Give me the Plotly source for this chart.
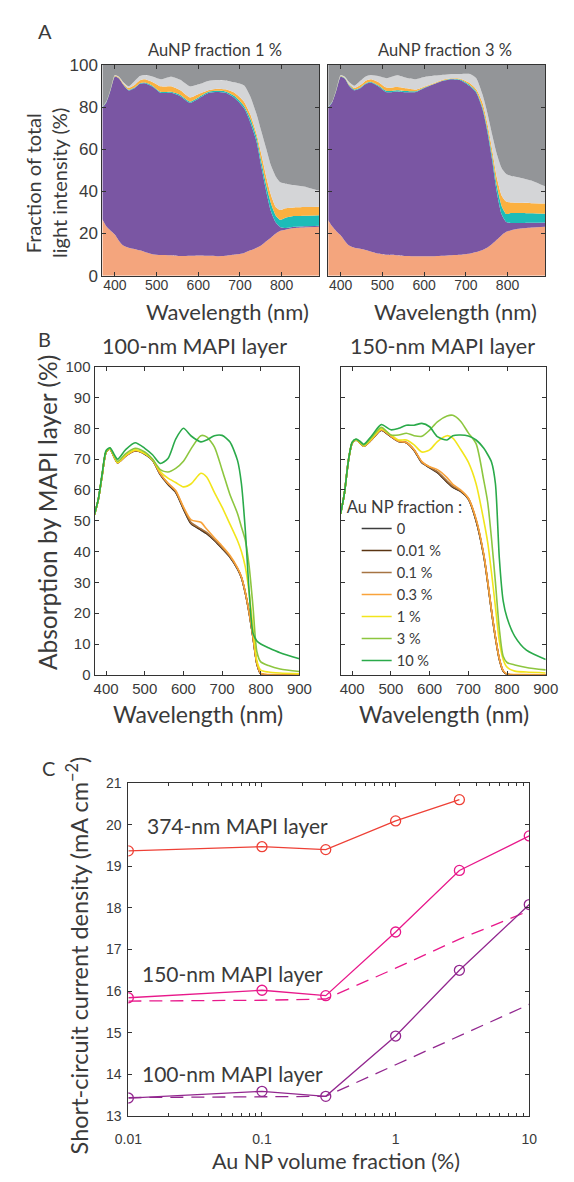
import plotly.graph_objects as go

# ---------------- Panel A data (cumulative boundaries, %) ----------------
WL_A = [370, 380, 390, 400, 410, 420, 433, 447, 460, 472, 490, 510, 535, 557, 580, 603,
        626, 645, 665, 687, 710, 725, 740, 752, 763, 774, 786, 797, 809, 830, 860, 890]

A1_salmon = [26.8, 23.3, 21.3, 19.5, 16.5, 14.3, 13.3, 12.7, 12.0, 11.2, 10.2, 9.8, 9.7, 9.3, 9.4, 9.6,
             9.4, 9.2, 9.4, 10.0, 10.8, 12.0, 13.2, 14.5, 16.3, 18.0, 20.0, 21.3, 21.8, 22.6, 23.0, 23.2]
A1_purple = [79.8, 82.5, 88.3, 94.5, 93.6, 90.7, 88.0, 89.0, 91.1, 91.4, 89.8, 86.8, 86.8, 85.2, 82.1, 84.4,
             86.8, 87.2, 86.8, 84.4, 79.5, 72.7, 63.4, 51.0, 40.0, 30.7, 25.2, 23.0, 22.6, 23.2, 23.5, 23.7]
A1_teal = [80.0, 82.7, 88.5, 94.7, 93.8, 90.9, 88.3, 89.3, 91.4, 91.7, 90.2, 87.3, 87.3, 85.8, 82.7, 85.0,
           87.4, 87.8, 87.5, 85.3, 80.5, 74.5, 65.5, 53.5, 43.0, 34.5, 28.5, 26.5, 27.5, 28.3, 28.5, 28.7]
A1_orange = [80.0, 82.8, 88.7, 95.0, 94.1, 91.4, 89.1, 90.5, 92.8, 93.3, 92.0, 89.9, 89.9, 88.0, 84.6, 86.5,
             88.2, 88.8, 88.5, 86.8, 82.5, 76.5, 67.3, 57.0, 47.0, 38.5, 32.5, 31.2, 32.0, 32.4, 32.6, 32.7]
A1_lgray = [80.0, 82.9, 88.8, 95.3, 94.5, 92.0, 89.9, 92.3, 94.8, 95.3, 94.6, 93.3, 94.5, 93.0, 89.9, 91.0,
            92.6, 92.9, 92.7, 91.8, 90.3, 85.0, 76.5, 68.0, 60.3, 52.5, 47.0, 44.3, 43.7, 43.0, 42.0, 40.3]

A3_salmon = [26.3, 23.3, 21.0, 19.2, 16.5, 14.3, 13.3, 12.8, 12.2, 11.5, 10.5, 9.9, 9.7, 9.3, 9.2, 9.2,
             9.2, 9.4, 9.7, 9.9, 10.5, 11.2, 12.2, 13.4, 15.0, 17.0, 19.2, 20.8, 21.6, 22.4, 22.9, 23.2]
A3_purple = [79.8, 82.5, 88.3, 94.5, 93.5, 90.2, 88.0, 89.0, 91.0, 91.7, 89.9, 87.1, 87.5, 87.1, 87.2, 89.3,
             91.1, 92.5, 93.3, 92.8, 89.9, 86.8, 79.0, 68.0, 55.0, 40.0, 29.0, 25.5, 25.0, 25.0, 25.1, 25.2]
A3_teal = [80.0, 82.6, 88.5, 94.7, 93.7, 90.5, 88.4, 89.4, 91.4, 92.1, 90.4, 87.7, 88.1, 87.7, 87.6, 89.6,
           91.3, 92.7, 93.5, 93.1, 90.4, 87.5, 80.0, 69.5, 57.0, 43.0, 33.0, 29.3, 29.7, 29.8, 29.6, 29.4]
A3_orange = [80.0, 82.7, 88.7, 94.9, 94.0, 91.0, 89.1, 90.5, 92.6, 93.3, 92.0, 89.3, 89.6, 89.0, 88.4, 90.0,
             91.6, 93.0, 93.7, 93.5, 91.4, 88.5, 82.1, 72.0, 60.0, 47.0, 38.0, 35.2, 34.7, 34.6, 34.4, 34.3]
A3_lgray = [80.0, 82.8, 88.8, 95.3, 94.5, 92.0, 90.2, 92.5, 94.6, 95.3, 94.8, 93.8, 95.2, 94.0, 93.3, 94.4,
            95.0, 95.4, 95.8, 95.8, 95.8, 93.8, 86.0, 77.0, 67.0, 58.0, 51.0, 48.3, 47.3, 46.5, 45.0, 42.4]
A_total = [100.0] * len(WL_A)

# ---------------- Panel B data (absorption by MAPI layer, %) ----------------
WL_B = [370, 380, 390, 400, 410, 420, 430, 450, 475, 500, 520, 540, 560, 580, 600, 620,
        645, 660, 680, 700, 720, 740, 750, 760, 770, 780, 790, 800, 820, 850, 900]
fractions = ["0", "0.01 %", "0.1 %", "0.3 %", "1 %", "3 %", "10 %"]
frac_colors = ["#3d3d3d", "#5a3412", "#a67443", "#f9a33b", "#f2e51c", "#8dc63f", "#2aaa4a"]

B100 = {
    "0":      [52.0, 57.0, 65.0, 72.3, 73.3, 70.9, 68.8, 71.0, 72.7, 71.6, 69.6, 65.0, 61.8, 59.2, 53.8, 49.0,
               47.0, 45.8, 43.6, 41.0, 38.2, 34.3, 31.5, 26.5, 20.0, 12.0, 3.5, 0.3, 0.0, 0.0, 0.0],
    "0.01 %": [52.0, 57.0, 65.0, 72.3, 73.3, 70.9, 68.8, 71.0, 72.7, 71.7, 69.7, 65.1, 61.9, 59.3, 53.9, 49.1,
               47.1, 45.9, 43.7, 41.1, 38.3, 34.4, 31.6, 26.6, 20.1, 12.1, 3.6, 0.3, 0.0, 0.0, 0.0],
    "0.1 %":  [52.0, 57.0, 65.0, 72.3, 73.3, 70.9, 68.8, 71.0, 72.8, 71.8, 69.8, 65.2, 62.1, 59.5, 54.2, 49.4,
               47.4, 46.2, 43.9, 41.3, 38.5, 34.5, 31.7, 26.7, 20.2, 12.2, 3.7, 0.4, 0.0, 0.0, 0.0],
    "0.3 %":  [52.0, 57.0, 65.0, 72.3, 73.3, 70.9, 68.8, 71.0, 72.8, 71.8, 69.8, 65.3, 62.2, 59.8, 54.5, 50.3,
               49.5, 47.3, 44.5, 41.8, 38.8, 34.7, 31.8, 26.8, 20.3, 12.3, 3.8, 0.5, 0.1, 0.1, 0.0],
    "1 %":    [52.0, 57.0, 65.0, 72.4, 73.4, 71.0, 68.9, 71.2, 73.0, 71.8, 69.8, 66.0, 63.8, 62.4, 61.0, 62.0,
               65.4, 64.2, 59.2, 54.4, 49.0, 43.5, 40.0, 35.0, 26.7, 15.0, 4.5, 1.5, 0.9, 0.6, 0.3],
    "3 %":    [52.0, 57.0, 65.2, 72.5, 73.5, 71.3, 69.3, 71.7, 73.5, 72.3, 70.0, 66.6, 65.8, 67.0, 69.3, 73.4,
               77.6, 77.2, 74.0, 66.5, 58.6, 52.3, 48.0, 43.7, 35.2, 22.0, 7.5, 4.2, 3.0, 1.9, 1.1],
    "10 %":   [52.2, 57.2, 65.5, 72.8, 73.7, 71.7, 70.0, 73.0, 75.3, 73.5, 71.4, 68.6, 70.2, 76.5, 80.0, 77.5,
               75.6, 76.2, 77.6, 77.7, 75.6, 69.5, 62.0, 47.0, 27.0, 13.5, 11.0, 10.0, 8.8, 7.2, 5.2],
}
B150 = {
    "0":      [52.2, 59.0, 69.3, 75.2, 76.2, 75.3, 74.2, 76.3, 79.4, 77.3, 75.7, 75.3, 72.8, 68.8, 67.2, 65.6,
               62.5, 60.8, 59.5, 57.0, 50.0, 38.5, 30.0, 20.5, 12.0, 5.0, 1.2, 0.2, 0.0, 0.0, 0.0],
    "0.01 %": [52.2, 59.0, 69.3, 75.2, 76.2, 75.3, 74.2, 76.3, 79.4, 77.3, 75.7, 75.3, 72.9, 68.9, 67.3, 65.7,
               62.6, 60.9, 59.6, 57.1, 50.1, 38.6, 30.1, 20.6, 12.1, 5.1, 1.2, 0.2, 0.0, 0.0, 0.0],
    "0.1 %":  [52.2, 59.0, 69.3, 75.2, 76.2, 75.3, 74.2, 76.3, 79.5, 77.4, 75.8, 75.4, 73.0, 69.0, 67.4, 65.9,
               62.9, 61.2, 59.8, 57.3, 50.3, 38.8, 30.2, 20.7, 12.2, 5.2, 1.3, 0.2, 0.0, 0.0, 0.0],
    "0.3 %":  [52.2, 59.0, 69.3, 75.2, 76.2, 75.3, 74.2, 76.3, 79.5, 77.4, 75.8, 75.4, 73.0, 69.2, 67.5, 66.6,
               64.0, 61.8, 60.0, 57.3, 50.6, 39.0, 30.4, 20.8, 12.3, 5.3, 1.4, 0.3, 0.1, 0.1, 0.0],
    "1 %":    [52.2, 59.0, 69.3, 75.3, 76.3, 75.4, 74.3, 76.6, 79.8, 77.8, 76.2, 76.2, 74.6, 72.3, 73.0, 75.7,
               77.6, 76.8, 73.2, 69.0, 62.0, 50.0, 43.0, 33.0, 22.0, 11.0, 5.0, 2.5, 1.2, 0.9, 0.6],
    "3 %":    [52.2, 59.0, 69.3, 75.4, 76.4, 75.6, 74.5, 77.0, 80.3, 77.8, 77.8, 78.4, 77.6, 77.4, 79.4, 82.1,
               84.0, 84.2, 82.3, 78.5, 75.0, 63.0, 56.0, 44.0, 30.0, 15.0, 6.0, 4.0, 3.2, 2.4, 1.6],
    "10 %":   [52.2, 59.0, 69.3, 75.5, 76.5, 75.8, 74.8, 77.5, 81.2, 79.5, 80.0, 81.0, 81.0, 81.6, 80.5, 77.3,
               76.2, 77.6, 77.8, 77.5, 76.2, 73.5, 71.5, 69.0, 62.0, 38.0, 24.0, 18.5, 12.5, 8.0, 5.0],
}

# ---------------- Panel C data (Jsc, mA cm^-2) ----------------
vol_frac = [0.01, 0.1, 0.3, 1, 3, 10]
jsc_374 = [19.37, 19.47, 19.40, 20.09, 20.60]
jsc_150 = [15.84, 16.02, 15.89, 17.42, 18.90, 19.73]
jsc_150_ref = [15.76, 15.78, 15.81, 16.55, 17.25, 17.93]
jsc_100 = [13.43, 13.59, 13.47, 14.92, 16.50, 18.08]
jsc_100_ref = [13.44, 13.45, 13.47, 14.23, 14.93, 15.68]
log_minor = [0.02, 0.03, 0.04, 0.05, 0.06, 0.07, 0.08, 0.09,
             0.2, 0.3, 0.4, 0.5, 0.6, 0.7, 0.8, 0.9,
             2, 3, 4, 5, 6, 7, 8, 9]

W, H = 574, 1182
TXT = "#3a3a3a"
TITLE_FONT = "Lato"
TICK_FONT = "Liberation Sans"

fig = go.Figure()

# ---------- Panel A: stacked areas ----------
layer_colors = ["#f4a57d", "#7a56a3", "#1dbcb8", "#fbb040", "#d4d5d7", "#939598"]
for (xa, ya, layers) in [("x", "y", [A1_salmon, A1_purple, A1_teal, A1_orange, A1_lgray, A_total]),
                         ("x2", "y2", [A3_salmon, A3_purple, A3_teal, A3_orange, A3_lgray, A_total])]:
    for i, (vals, col) in enumerate(zip(layers, layer_colors)):
        fig.add_trace(go.Scatter(
            x=WL_A, y=vals, xaxis=xa, yaxis=ya, mode="lines",
            line=dict(width=0, color=col, shape="spline", smoothing=0.6),
            fill="tozeroy" if i == 0 else "tonexty", fillcolor=col,
            showlegend=False, hoverinfo="skip"))

# ---------- Panel B: lines ----------
for (xa, ya, data, leg) in [("x3", "y3", B100, False), ("x4", "y4", B150, True)]:
    for name, col in zip(fractions, frac_colors):
        fig.add_trace(go.Scatter(
            x=WL_B, y=data[name], xaxis=xa, yaxis=ya, mode="lines", name=name,
            line=dict(width=1.6, color=col, shape="spline", smoothing=0.7),
            showlegend=leg))

# ---------- Panel C ----------
c_red, c_mag, c_pur = "#ee4036", "#e8198b", "#92278f"
fig.add_trace(go.Scatter(x=vol_frac[:5], y=jsc_374, xaxis="x5", yaxis="y5", mode="lines+markers",
                         line=dict(color=c_red, width=1.3),
                         marker=dict(symbol="circle-open", size=10, color=c_red, line=dict(width=1.3)),
                         showlegend=False))
for sol, ref, col in [(jsc_150, jsc_150_ref, c_mag), (jsc_100, jsc_100_ref, c_pur)]:
    fig.add_trace(go.Scatter(x=vol_frac, y=ref, xaxis="x5", yaxis="y5", mode="lines",
                             line=dict(color=col, width=1.3, dash="13px,8px"), showlegend=False))
    fig.add_trace(go.Scatter(x=vol_frac, y=sol, xaxis="x5", yaxis="y5", mode="lines+markers",
                             line=dict(color=col, width=1.3),
                             marker=dict(symbol="circle-open", size=10, color=col, line=dict(width=1.3)),
                             showlegend=False))


def px_dom_x(a, b):
    return [a / W, b / W]


def px_dom_y(top, bot):
    return [1 - bot / H, 1 - top / H]


base_axis = dict(showline=True, linecolor="#333333", linewidth=1, mirror="allticks",
                 ticks="inside", ticklen=4, tickcolor="#333333", showgrid=False, zeroline=False)

layout = dict(
    width=W, height=H, margin=dict(l=0, r=0, t=0, b=0),
    paper_bgcolor="white", plot_bgcolor="white",
    # Panel A
    xaxis=dict(base_axis, domain=px_dom_x(92.7, 320.3), range=[370, 890], anchor="y",
               tickvals=[400, 500, 600, 700, 800], ticklabelstandoff=-3,
               tickfont=dict(family=TICK_FONT, size=14, color=TXT)),
    yaxis=dict(base_axis, domain=px_dom_y(57, 271), range=[0, 100], anchor="x",
               tickvals=[0, 20, 40, 60, 80, 100],
               tickfont=dict(family=TICK_FONT, size=17, color=TXT)),
    xaxis2=dict(base_axis, domain=px_dom_x(329.7, 557.3), range=[370, 890], anchor="y2",
                tickvals=[400, 500, 600, 700, 800], ticklabelstandoff=-3,
                tickfont=dict(family=TICK_FONT, size=14, color=TXT)),
    yaxis2=dict(base_axis, domain=px_dom_y(57, 271), range=[0, 100], anchor="x2",
                tickvals=[0, 20, 40, 60, 80, 100], showticklabels=False),
    # Panel B
    xaxis3=dict(base_axis, domain=px_dom_x(84.5, 299.5), range=[370, 900], anchor="y3",
                tickvals=[400, 500, 600, 700, 800, 900],
                tickfont=dict(family=TICK_FONT, size=15, color=TXT)),
    yaxis3=dict(base_axis, domain=px_dom_y(363.5, 676.7), range=[0, 100], anchor="x3",
                dtick=10, tickfont=dict(family=TICK_FONT, size=15, color=TXT)),
    xaxis4=dict(base_axis, domain=px_dom_x(342.7, 558), range=[370, 900], anchor="y4",
                tickvals=[400, 500, 600, 700, 800, 900],
                tickfont=dict(family=TICK_FONT, size=15, color=TXT)),
    yaxis4=dict(base_axis, domain=px_dom_y(363.5, 676.7), range=[0, 100], anchor="x4",
                dtick=10, showticklabels=False),
    # Panel C
    xaxis5=dict(base_axis, domain=px_dom_x(120, 540.7), type="log", range=[-2, 1], anchor="y5",
                tickvals=[0.01, 0.1, 1, 10], ticktext=["0.01", "0.1", "1", "10"],
                tickfont=dict(family=TICK_FONT, size=14, color=TXT), ticklabelstandoff=10,
                minor=dict(ticks="inside", ticklen=2.5, tickcolor="#333333", showgrid=False,
                           tickvals=log_minor)),
    yaxis5=dict(base_axis, domain=px_dom_y(786.7, 1125), range=[13, 21], dtick=1, anchor="x5",
                tickfont=dict(family=TICK_FONT, size=14, color=TXT), ticklabelstandoff=3),
    legend=dict(x=347 / W, y=1 - 490 / H, xanchor="left", yanchor="top",
                bgcolor="rgba(0,0,0,0)", borderwidth=0, traceorder="normal",
                font=dict(family=TITLE_FONT, size=14.6, color=TXT),
                title=dict(text="Au NP fraction :", font=dict(family=TITLE_FONT, size=16.5, color=TXT)),
                itemwidth=30, tracegroupgap=0, indentation=12),
)
fig.update_layout(**layout)


def ann(text, x, y, size, angle=0, xanchor="center", family=TITLE_FONT):
    fig.add_annotation(text=text, x=x / W, y=1 - y / H, xref="paper", yref="paper",
                       showarrow=False, xanchor=xanchor, yanchor="middle", textangle=angle,
                       font=dict(family=family, size=size, color=TXT))


ann("A", 33, 22, 20)
ann("AuNP fraction 1 %", 211, 42, 16.5)
ann("AuNP fraction 3 %", 452, 42, 16.5)
ann("Fraction of total", 20, 177, 20, angle=-90)
ann("light intensity (%)", 47, 177, 20, angle=-90)
ann("Wavelength (nm)", 224, 307, 22)
ann("Wavelength (nm)", 463, 307, 22)

ann("B", 32, 335, 20)
ann("100-nm MAPI layer", 189, 342, 21.5)
ann("150-nm MAPI layer", 450, 342, 21.5)
ann("Absorption by MAPI layer (%)", 35, 512, 24.5, angle=-90)
ann("Wavelength (nm)", 193, 717, 23)
ann("Wavelength (nm)", 451, 717, 23)

ann("C", 36, 771, 20)
ann("Short-circuit current density (mA cm<sup>−2</sup>)", 67, 962, 23.5, angle=-90)
ann("Au NP volume fraction (%)", 338, 1171, 21.5)
ann("374-nm MAPI layer", 137, 830, 21, xanchor="left")
ann("150-nm MAPI layer", 132, 980, 21, xanchor="left")
ann("100-nm MAPI layer", 132, 1082, 21, xanchor="left")

fig.write_html("out.html")
